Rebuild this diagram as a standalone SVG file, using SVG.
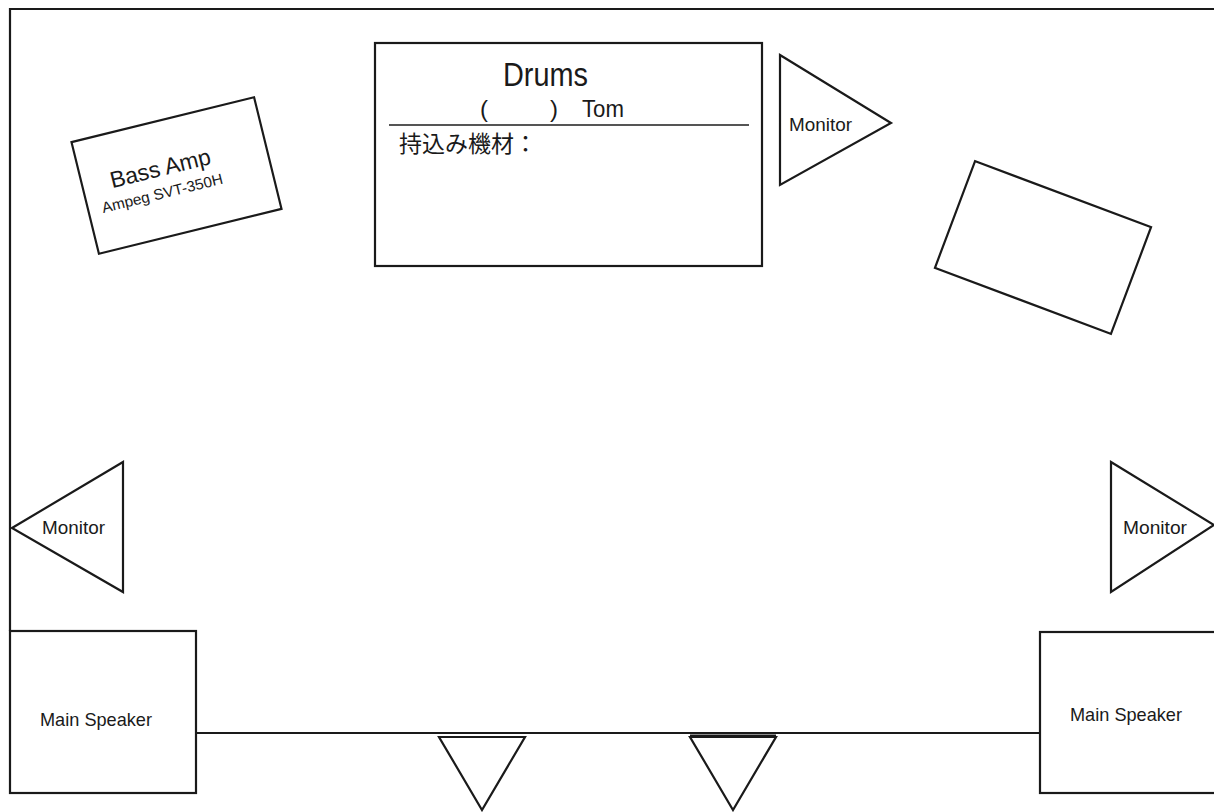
<svg xmlns="http://www.w3.org/2000/svg" width="1214" height="812" viewBox="0 0 1214 812">
<style>
.s{fill:#fff;stroke:#1a1a1a;stroke-width:2.2;stroke-linejoin:miter}
.l{fill:none;stroke:#1a1a1a;stroke-width:2.2}
.t{font-family:"Liberation Sans","Noto Sans CJK JP",sans-serif;fill:#1a1a1a}
.j{font-family:"Noto Sans CJK JP",sans-serif;fill:#1a1a1a}
.m{font-size:19px}
</style>
<rect width="1214" height="812" fill="#fff"/>
<g id="connectors">
<polyline class="l" points="10,631 10,9 1216,9"/>
<line class="l" x1="196" y1="733" x2="1040" y2="733"/>
</g>
<g id="bass-amp" transform="translate(176.5,175.5) rotate(-13.8)">
<rect class="s" x="-94" y="-57.5" width="188" height="115"/>
<text class="t" x="-14" y="-3" font-size="23" text-anchor="middle" textLength="103" lengthAdjust="spacingAndGlyphs">Bass Amp</text>
<text class="t" x="-18" y="19" font-size="15" text-anchor="middle" textLength="124" lengthAdjust="spacingAndGlyphs">Ampeg SVT-350H</text>
</g>
<g id="drums">
<rect class="s" x="375" y="43" width="387" height="223"/>
<line x1="389" y1="125" x2="749" y2="125" stroke="#555" stroke-width="2"/>
<text class="t" x="503" y="86" font-size="33" textLength="85" lengthAdjust="spacingAndGlyphs">Drums</text>
<text class="t" y="117" font-size="24"><tspan x="480">(</tspan><tspan x="550">)</tspan><tspan x="582" textLength="42" lengthAdjust="spacingAndGlyphs">Tom</tspan></text>
<text class="j" x="399" y="152" font-size="23">持込み機材：</text>
</g>
<g id="monitor-top">
<polygon class="s" points="780,55 891,123 780,185"/>
<text class="t m" x="789" y="131" textLength="63" lengthAdjust="spacingAndGlyphs">Monitor</text>
</g>
<g id="box-right" transform="translate(1043,247.5) rotate(20.6)">
<rect class="s" x="-94" y="-57" width="188" height="114"/>
</g>
<g id="monitor-left">
<polygon class="s" points="12,528 123,462 123,592"/>
<text class="t m" x="42" y="534" textLength="63" lengthAdjust="spacingAndGlyphs">Monitor</text>
</g>
<g id="monitor-right">
<polygon class="s" points="1111,462 1214,525 1111,592"/>
<text class="t m" x="1123" y="534" textLength="64" lengthAdjust="spacingAndGlyphs">Monitor</text>
</g>
<g id="speaker-left">
<rect class="s" x="10" y="631" width="186" height="162"/>
<text class="t m" x="40" y="726" textLength="112" lengthAdjust="spacingAndGlyphs">Main Speaker</text>
</g>
<g id="speaker-right">
<rect class="s" x="1040" y="632" width="180" height="161"/>
<text class="t m" x="1070" y="721" textLength="112" lengthAdjust="spacingAndGlyphs">Main Speaker</text>
</g>
<g id="floor-monitor-1">
<polygon class="s" points="439,737 525,737 482,810"/>
</g>
<g id="floor-monitor-2">
<polygon class="s" points="690,737 776,737 733,810"/>
<line x1="690" y1="736" x2="776" y2="736" stroke="#1a1a1a" stroke-width="3"/>
</g>
</svg>
